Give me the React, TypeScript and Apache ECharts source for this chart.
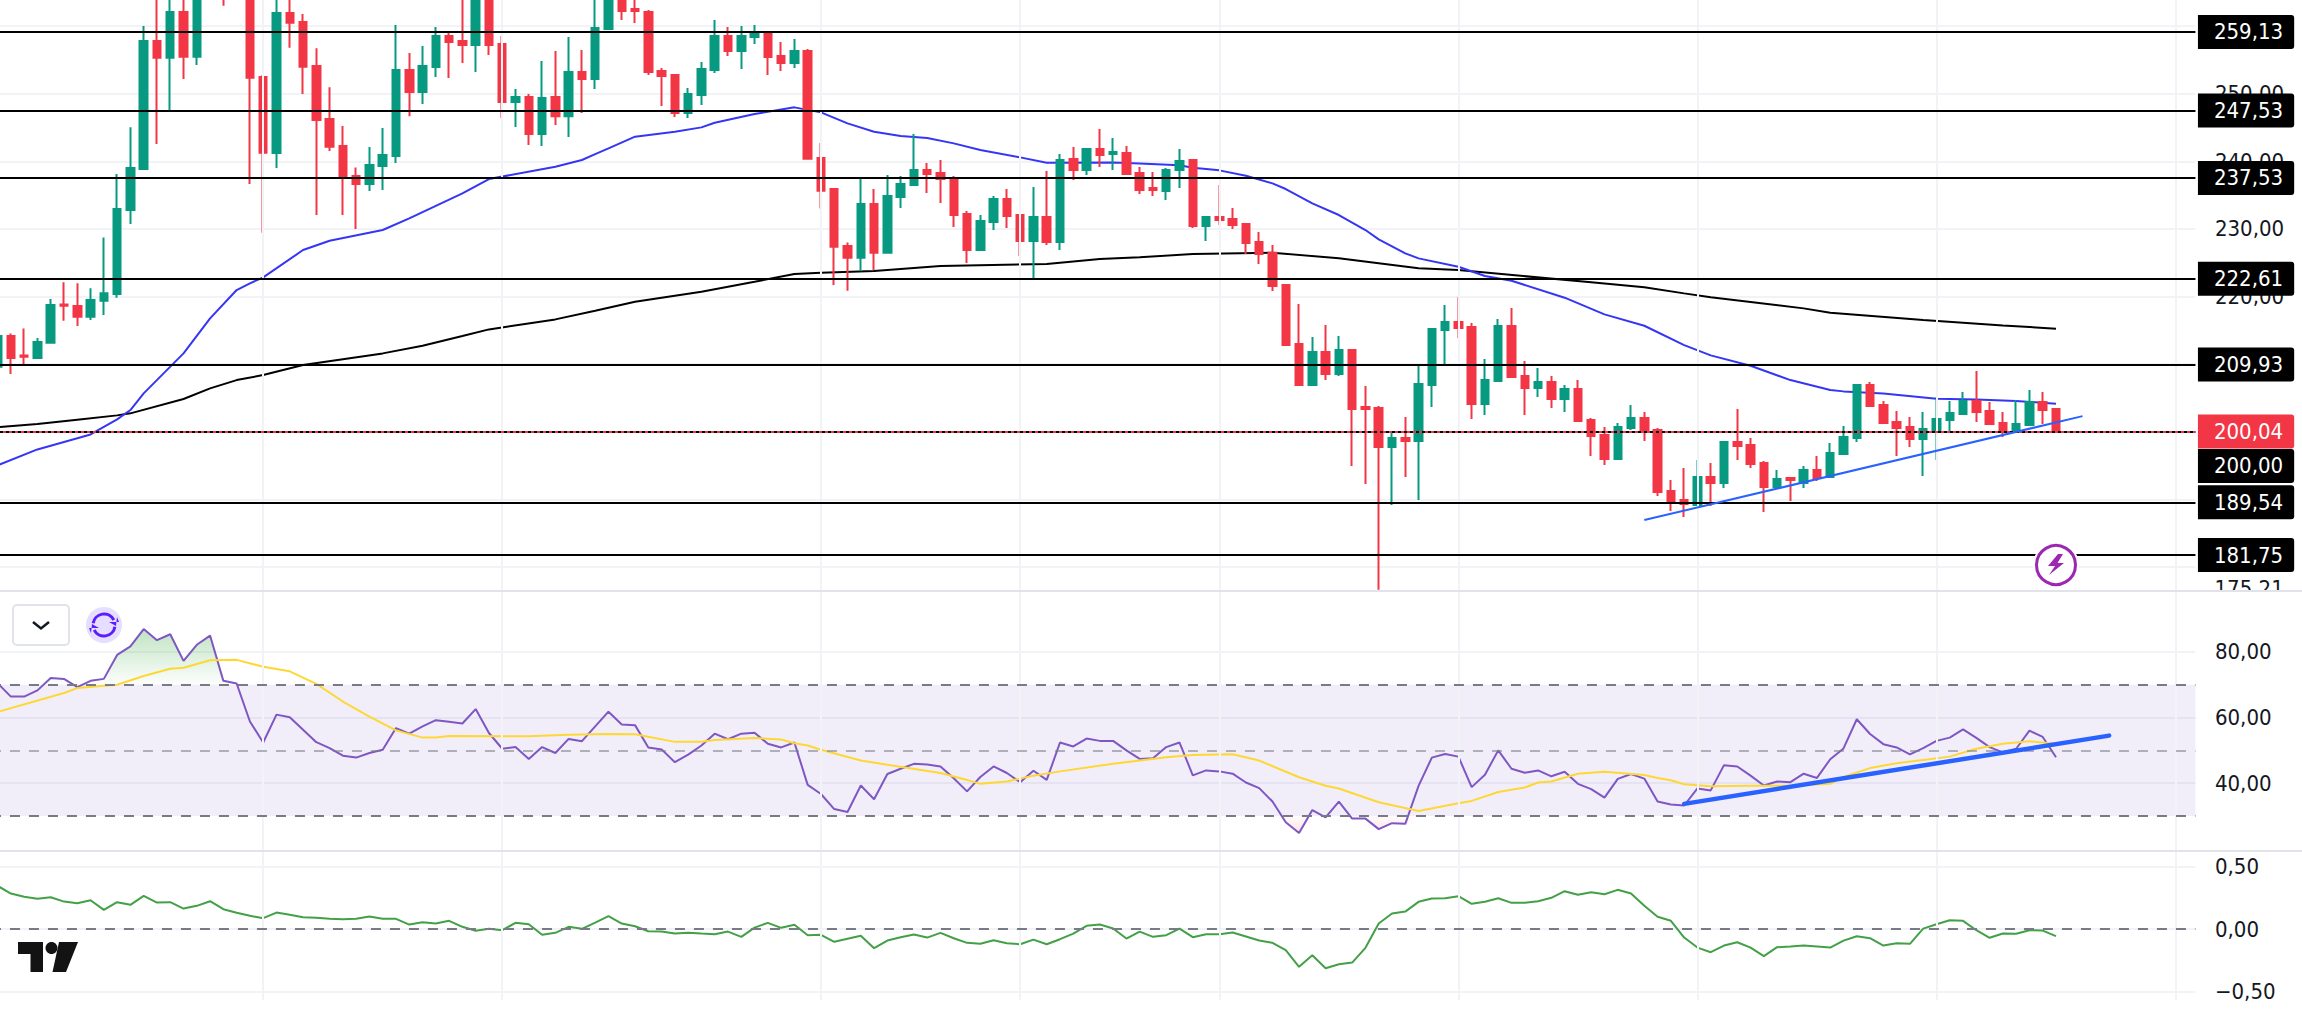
import React, { useEffect, useRef } from "react";
import * as echarts from "echarts";

const opens = [209.61,214.15,211.28,210.89,213.16,218.83,218.58,217.0,219.37,220.36,232.79,238.85,257.79,255.33,262.08,255.48,266,268,268,266.5,252.47,241.22,261.94,260.61,254.09,246.25,242.26,237.82,236.64,239.3,240.78,253.5,250.25,253.95,258.53,257.79,257.2,264.45,257.35,248.77,249.51,244.03,249.51,246.68,253.21,252.17,259.57,264.35,262.53,262.08,253.35,252.76,247.14,249.8,253.5,258.53,256.31,258.39,258.98,255.57,254.54,256.31,240.48,235.9,227.46,225.74,233.68,226.48,234.71,236.49,238.71,238.26,237.52,232.2,226.87,231.01,234.42,232.05,228.2,231.75,228.05,240.33,238.71,241.81,241.07,241.22,238.26,236.04,235.6,238.71,240.19,230.42,231.75,231.46,230.72,228.05,226.48,221.69,212.96,206.9,211.78,208.52,212.07,203.64,203.49,197.72,199.05,198.61,206.9,215.03,216.22,215.48,204.08,207.49,215.62,208.23,206.45,207.34,204.82,206.3,201.72,199.5,195.95,200.53,202.01,200.24,191.21,189.88,189.14,193.28,192.39,198.46,198.02,195.35,191.8,193.14,192.39,194.32,193.28,196.69,199.05,206.9,203.94,201.42,200.68,198.91,200.24,201.72,202.61,204.53,203.05,201.27,200.24,200.98,204.38,203.35];
const highs = [214.15,214.54,215.28,213.85,219.62,222.09,221.94,221.2,228.74,238.11,245.02,260.01,265.34,264.85,264.85,266.5,268,269,269,267.5,252.76,264.85,264.35,261.79,256.71,250.94,245.22,239.1,242.11,244.92,260.16,256.02,257.05,259.87,258.98,264.85,265.09,265.09,258.53,250.69,249.95,254.83,256.31,258.39,256.46,264.6,265.8,265.5,264.35,262.38,253.8,252.76,250.84,254.69,260.9,259.87,260.01,260.16,259.13,257.65,258.09,256.61,242.7,235.9,228.0,237.62,235.9,237.97,237.82,244.03,239.74,240.19,237.82,232.64,232.05,234.86,235.9,232.05,236.19,238.56,241.07,242.11,241.96,244.77,243.44,242.26,239.15,238.41,239.0,241.81,240.19,231.9,236.49,233.08,230.87,229.53,227.61,221.69,218.88,214.0,215.77,214.15,212.07,206.75,203.79,199.94,202.16,210.0,215.18,218.73,219.92,216.07,210.74,216.66,218.29,210.45,209.41,208.23,206.9,207.63,202.01,200.68,201.27,203.94,202.9,200.53,192.84,194.61,195.8,195.35,198.61,203.35,199.05,195.65,194.32,193.28,194.91,196.39,198.31,200.83,206.9,207.34,204.53,203.05,202.16,202.9,205.12,204.53,205.86,208.97,204.38,202.9,204.68,206.16,205.86,203.35];
const lows = [208.82,208.52,209.85,210.89,213.16,216.41,215.62,216.51,217.25,219.82,230.72,238.85,242.55,247.34,252.17,254.24,264.5,263.02,264.8,236.64,229.43,239.0,256.81,249.95,232.05,241.52,232.05,229.98,235.6,235.75,239.74,246.68,248.47,252.47,252.32,254.54,253.21,255.72,246.4,245.07,242.41,242.26,245.37,243.59,247.14,250.69,259.57,260.9,260.46,252.76,248.18,246.55,246.4,248.32,253.06,255.57,253.65,257.35,252.76,253.35,253.8,240.38,233.0,221.69,220.85,223.76,223.91,226.48,233.08,236.49,235.3,233.82,230.27,224.95,226.72,229.83,230.13,225.98,222.58,227.61,226.87,237.23,237.97,239.15,238.71,238.11,235.16,234.86,234.27,236.04,230.13,228.2,230.57,229.98,226.28,224.8,220.8,212.67,206.75,206.75,207.63,208.23,194.91,192.25,176.6,189.14,193.28,189.88,203.64,209.85,213.85,201.86,202.46,207.49,208.08,202.46,205.12,203.49,202.9,201.42,196.39,195.06,195.95,200.24,198.61,190.47,188.25,187.36,189.14,188.99,191.65,195.8,194.61,188.1,191.51,189.73,191.65,192.69,193.14,196.69,198.46,203.79,201.12,196.39,197.72,193.43,195.8,199.94,202.46,201.42,200.98,199.2,199.79,200.98,201.12,199.9];
const closes = [214.15,210.89,211.09,213.26,218.73,218.63,217.0,219.47,220.46,232.94,239.0,257.79,255.33,262.08,255.48,265.34,267,265,266.5,252.37,241.27,261.94,260.51,254.0,246.11,242.16,237.67,236.64,239.45,240.93,253.5,250.25,254.09,258.53,257.65,257.2,264.45,257.2,248.77,249.51,244.03,249.36,246.68,253.21,252.17,259.72,264.6,262.23,262.23,253.21,252.62,247.14,249.95,253.65,258.53,256.31,258.53,258.98,255.43,254.54,256.31,240.38,235.65,227.36,225.74,233.68,226.48,234.86,236.64,238.71,238.11,237.38,232.05,226.87,231.16,234.42,231.9,228.2,231.75,228.05,240.19,238.71,241.81,240.93,241.37,238.11,235.75,235.75,238.71,240.04,230.42,231.75,231.31,230.57,227.9,226.28,221.54,212.81,206.9,211.78,208.52,212.07,203.35,203.35,197.72,199.05,198.61,207.04,215.18,216.22,215.33,204.08,207.63,215.62,208.08,206.45,207.34,204.82,206.3,201.57,199.35,195.95,200.68,202.01,199.94,191.06,189.73,189.29,193.28,192.39,198.46,197.87,195.21,191.8,192.99,192.84,194.32,193.14,196.84,199.2,206.9,203.79,201.27,200.53,198.91,200.39,201.87,202.75,204.53,202.9,201.12,200.24,201.12,204.38,203.2,200.04];

const blueIndex = [0,3,7,9,10,11,14,16,18,19,20,23,25,29,31,35,37,42,44,45,46,48,51,53,54,57,60,62,64,66,68,70,72,74,77,79,84,86,89,90,92,94,96,97,99,101,103,104,106,107,110,112,114,118,121,124,127,129,132,135,138,139,142,146,149,152,155];
const blueValues = [195.01,197.37,199.59,201.82,203.2,205.66,211.58,216.76,220.95,221.94,222.83,226.87,228.25,229.83,231.56,235.25,237.38,239.2,240.19,241.07,241.91,243.64,244.38,245.02,245.71,247.0,247.98,247.24,245.61,244.38,243.74,243.44,242.65,241.67,240.58,239.79,239.84,239.69,239.4,239.05,238.66,237.87,236.73,235.9,233.77,232.05,229.83,228.45,226.38,225.64,224.4,223.02,222.33,219.82,217.35,215.67,212.81,211.29,209.76,207.63,206.16,205.96,205.66,204.87,204.77,204.53,204.13];
const blackIndex = [0,3,6,9,10,14,16,18,20,23,29,32,35,37,42,45,48,53,57,60,62,66,71,79,83,86,90,96,101,107,110,120,124,127,129,136,138,145,151,155];
const blackValues = [200.68,201.12,201.77,202.41,202.71,204.83,206.4,207.63,208.37,209.85,211.58,212.72,214.15,215.13,216.61,217.9,219.23,220.7,222.18,223.32,223.52,223.76,224.5,224.8,225.54,225.79,226.28,226.48,225.64,224.16,223.91,222.09,221.35,220.46,219.87,218.24,217.6,216.51,215.72,215.23];
const trendIndex = [124,157];
const trendValues = [186.92,202.3];

const rsi = [70.5,66.4,66.4,68.3,72.1,71.8,69.3,71.2,71.8,79.1,81.7,87,83.6,85.4,77.3,82.2,85,71.2,70.4,58.8,52.4,60.9,60.1,56.3,52.5,50.7,48.4,47.8,49.2,50.2,56.8,55.1,57.3,59.2,58.7,58.2,62.6,55.3,50.5,51,47.4,51,49.2,53.5,52.8,57.3,61.8,57.9,57.7,50.9,50.3,46.4,48.7,51.5,55.1,53.4,55.1,55.4,52,50.9,52.4,39.5,36.7,32.1,31.2,39.3,35.1,42.8,44.4,45.9,45.7,45.1,41.5,37.5,41.9,45.1,43.1,40.3,43.8,41,52.4,51.2,53.6,52.9,52.9,50,47.4,47.6,51,52.4,42.4,43.9,43.6,42.9,40.2,38.5,34.4,28.1,24.8,31.8,29.6,34.4,29.2,29.2,26,27.8,27.6,39.2,47.8,48.9,48.1,38.8,42.6,50,44.4,43.2,43.9,42.1,43.5,39.8,38.2,35.6,41.3,42.8,41.4,34.4,33.5,33.2,38.4,37.8,45.5,45.1,42.3,39.3,40.5,40.3,42.9,41.6,47.3,50.6,59.5,55,51.9,50.9,48.8,50.7,52.9,53.9,56.4,53.8,51,49.4,50.5,56,54.1,47.9];
const maIndex = [0,5,6,9,11,13,14,16,18,20,22,24,26,28,30,32,33,34,40,43,46,48,51,53,54,57,59,60,61,62,65,67,71,73,74,76,78,80,84,88,90,93,95,98,100,101,104,107,110,111,113,115,116,117,119,121,124,125,126,127,129,132,135,138,139,141,143,145,147,149,151,153,155];
const maValues = [61.7,67.5,69,70,72.7,74.9,75.2,77.5,77.6,75.5,74.1,70.3,64.9,60.3,56.1,53.9,53.9,54.4,54.3,54.8,55,54.9,52.6,52.6,53.2,53.8,53.3,52.2,51.5,50.2,46.9,45.6,43.1,41,39.8,40.5,42.3,43.6,45.9,47.9,48.6,48.8,46.9,41.8,39.2,38.4,34.2,31.5,33.9,34.6,37.3,38.7,40.2,40.5,42.9,43.5,42.5,41.6,40.9,39.7,39.1,39.2,39.2,39.8,41.9,44.6,46.1,47.1,48.1,50.5,52,52.8,52];
const rsiTrendIndex = [127,159];
const rsiTrendValues = [33.7,54.5];

const lower = [0.347,0.285,0.259,0.243,0.256,0.221,0.208,0.232,0.155,0.216,0.195,0.267,0.213,0.216,0.165,0.187,0.224,0.16,0.131,0.107,0.088,0.133,0.115,0.096,0.091,0.083,0.08,0.083,0.101,0.083,0.083,0.037,0.056,0.045,0.067,0.019,-0.013,0.003,-0.008,0.051,0.04,-0.045,-0.029,0.019,0.003,0.053,0.104,0.045,0.024,-0.016,-0.019,-0.035,-0.029,-0.035,-0.04,-0.019,-0.061,0.013,0.051,0.011,0.035,-0.048,-0.045,-0.101,-0.077,-0.053,-0.152,-0.091,-0.064,-0.043,-0.067,-0.029,-0.072,-0.109,-0.117,-0.088,-0.112,-0.12,-0.083,-0.12,-0.08,-0.035,0.027,0.037,0.005,-0.075,-0.019,-0.061,-0.048,0.005,-0.064,-0.04,-0.04,-0.027,-0.059,-0.091,-0.109,-0.168,-0.301,-0.208,-0.312,-0.28,-0.267,-0.149,0.045,0.125,0.141,0.219,0.245,0.248,0.264,0.203,0.219,0.248,0.211,0.211,0.224,0.251,0.304,0.275,0.296,0.28,0.315,0.285,0.187,0.099,0.067,-0.067,-0.147,-0.184,-0.131,-0.104,-0.147,-0.216,-0.144,-0.139,-0.131,-0.139,-0.147,-0.091,-0.056,-0.072,-0.131,-0.112,-0.117,0.005,0.04,0.072,0.067,-0.008,-0.069,-0.035,-0.037,-0.008,-0.011,-0.056];

const levels = [259.13,247.53,237.53,222.61,209.93,189.54,181.75];
const levelLabels = ["259,13","247,53","237,53","222,61","209,93","189,54","181,75"];
const lastPrice = 200.04;
const roundLevel = 200;
const roundLevelTagValue = 194.92;
const priceTicks = [180,190,200,210,220,230,240,250,260];
const priceLabelTicks = [220,230,240,250];
const rsiTicks = [40,60,80];
const lowerTicks = [-0.5,0,0.5];
const timeMarks = [20,38,62,77,92,110,128,146,164];
const categories = Array.from({ length: 166 }, (_, i) => String(i));

const FONT = "'DejaVu Sans Condensed', 'DejaVu Sans', sans-serif";
const UP = "#089981";
const DOWN = "#F23645";
const GRID = "#F1F3F6";

const fmt = (v: number) => v.toFixed(2).replace(".", ",").replace("-", "\u2212");
const pairs = (xs: number[], ys: number[]) => xs.map((x, i) => [x, ys[i]]);

const tag = (bg: string) => ({
  show: true,
  position: "end",
  distance: 2.5,
  formatter: "{b}",
  color: "#fff",
  backgroundColor: bg,
  borderRadius: [0, 3, 3, 0],
  padding: [6, 11, 6, 16],
  fontFamily: FONT,
  fontSize: 22,
  lineHeight: 22,
});

const vertical = (idx: number) => ({
  type: "line",
  xAxisIndex: idx,
  yAxisIndex: idx,
  data: [],
  z: 1,
  silent: true,
  markLine: {
    silent: true,
    symbol: "none",
    animation: false,
    label: { show: false },
    lineStyle: { color: GRID, width: 2, type: "solid" },
    data: timeMarks.map((m) => ({ xAxis: m })),
  },
});

const yAxisBase = (idx: number, min: number, max: number, ticks: number[], labels: number[]) => ({
  gridIndex: idx,
  type: "value",
  position: "right",
  min,
  max,
  scale: true,
  axisLine: { show: false },
  axisTick: { show: false, customValues: ticks },
  splitLine: { show: true, lineStyle: { color: GRID, width: 2 } },
  axisLabel: {
    customValues: labels,
    formatter: fmt,
    color: "#131722",
    fontFamily: FONT,
    fontSize: 22,
    margin: 19.5,
    showMinLabel: true,
    showMaxLabel: true,
  },
});

const xAxisBase = (idx: number) => ({
  gridIndex: idx,
  type: "category",
  data: categories,
  boundaryGap: true,
  axisLine: { show: false },
  axisTick: { show: false },
  axisLabel: { show: false },
  splitLine: { show: false },
});

const dashLine = (v: number, color: string) => ({
  yAxis: v,
  lineStyle: { color, width: 2, type: [10, 9] },
});

const option: any = {
  animation: false,
  backgroundColor: "#ffffff",
  grid: [
    { left: -9.04, width: 2204.48, top: 0, height: 590.5, outerBoundsMode: "none", containLabel: false },
    { left: -9.04, width: 2204.48, top: 592, height: 258, outerBoundsMode: "none", containLabel: false },
    { left: -9.04, width: 2204.48, top: 851, height: 149, outerBoundsMode: "none", containLabel: false },
  ],
  xAxis: [xAxisBase(0), xAxisBase(1), xAxisBase(2)],
  yAxis: [
    yAxisBase(0, 176.5, 263.864, priceTicks, priceLabelTicks),
    yAxisBase(1, 19.63, 98.29, rsiTicks, rsiTicks),
    yAxisBase(2, -0.5664, 0.6256, lowerTicks, lowerTicks),
  ],
  series: [
    vertical(0),
    vertical(1),
    vertical(2),
    {
      type: "line",
      name: "levels",
      xAxisIndex: 0,
      yAxisIndex: 0,
      data: [],
      z: 2,
      markLine: {
        silent: true,
        symbol: "none",
        animation: false,
        lineStyle: { color: "#000000", width: 2, type: "solid" },
        data: [
          ...levels.map((v, i) => ({ yAxis: v, name: levelLabels[i], label: tag("#000000") })),
          { yAxis: roundLevel, name: "", label: { show: false } },
          {
            yAxis: roundLevelTagValue,
            name: "200,00",
            label: tag("#000000"),
            lineStyle: { color: "rgba(0,0,0,0)", width: 1 },
          },
        ],
      },
    },
    {
      type: "line",
      name: "ma-black",
      xAxisIndex: 0,
      yAxisIndex: 0,
      data: pairs(blackIndex, blackValues),
      showSymbol: false,
      lineStyle: { color: "#000000", width: 2 },
      z: 3,
    },
    {
      type: "line",
      name: "ma-blue",
      xAxisIndex: 0,
      yAxisIndex: 0,
      data: pairs(blueIndex, blueValues),
      showSymbol: false,
      lineStyle: { color: "#3535F5", width: 2 },
      z: 3,
    },
    {
      type: "candlestick",
      name: "price",
      xAxisIndex: 0,
      yAxisIndex: 0,
      barWidth: 8,
      z: 4,
      itemStyle: { color: UP, color0: DOWN, borderColor: UP, borderColor0: DOWN, borderWidth: 2 },
      data: opens.map((o, i) => [o, closes[i], lows[i], highs[i]]),
    },
    {
      type: "line",
      name: "trend",
      xAxisIndex: 0,
      yAxisIndex: 0,
      data: pairs(trendIndex, trendValues),
      showSymbol: false,
      lineStyle: { color: "#2962FF", width: 2 },
      z: 5,
    },
    {
      type: "line",
      name: "last",
      xAxisIndex: 0,
      yAxisIndex: 0,
      data: [],
      z: 6,
      markLine: {
        silent: true,
        symbol: "none",
        animation: false,
        lineStyle: { color: DOWN, width: 2, type: [3, 3] },
        data: [{ yAxis: lastPrice, name: "200,04", label: tag(DOWN) }],
      },
    },
    {
      type: "line",
      name: "rsi-band",
      xAxisIndex: 1,
      yAxisIndex: 1,
      data: [],
      z: 1,
      markArea: {
        silent: true,
        itemStyle: { color: "rgba(126,87,194,0.1)" },
        data: [[{ yAxis: 30 }, { yAxis: 70 }]],
      },
      markLine: {
        silent: true,
        symbol: "none",
        animation: false,
        label: { show: false },
        data: [
          dashLine(70, "#787B86"),
          dashLine(50, "rgba(120,123,134,0.55)"),
          dashLine(30, "#787B86"),
        ],
      },
    },
    {
      type: "line",
      name: "rsi-over",
      xAxisIndex: 1,
      yAxisIndex: 1,
      data: rsi.map((v) => Math.max(v, 70)),
      showSymbol: false,
      lineStyle: { opacity: 0 },
      z: 2,
      areaStyle: {
        origin: 70,
        color: new echarts.graphic.LinearGradient(0, 0, 0, 1, [
          { offset: 0, color: "rgba(76,175,80,0.5)" },
          { offset: 1, color: "rgba(76,175,80,0.02)" },
        ]),
      },
    },
    {
      type: "line",
      name: "rsi-under",
      xAxisIndex: 1,
      yAxisIndex: 1,
      data: rsi.map((v) => Math.min(v, 30)),
      showSymbol: false,
      lineStyle: { opacity: 0 },
      z: 2,
      areaStyle: {
        origin: 30,
        color: new echarts.graphic.LinearGradient(0, 0, 0, 1, [
          { offset: 0, color: "rgba(255,82,82,0.02)" },
          { offset: 1, color: "rgba(255,82,82,0.25)" },
        ]),
      },
    },
    {
      type: "line",
      name: "rsi",
      xAxisIndex: 1,
      yAxisIndex: 1,
      data: rsi,
      showSymbol: false,
      lineStyle: { color: "#7E57C2", width: 2 },
      z: 3,
    },
    {
      type: "line",
      name: "rsi-ma",
      xAxisIndex: 1,
      yAxisIndex: 1,
      data: pairs(maIndex, maValues),
      showSymbol: false,
      lineStyle: { color: "#FDD835", width: 2 },
      z: 4,
    },
    {
      type: "line",
      name: "rsi-trend",
      xAxisIndex: 1,
      yAxisIndex: 1,
      data: pairs(rsiTrendIndex, rsiTrendValues),
      showSymbol: false,
      lineStyle: { color: "#2962FF", width: 4.5, cap: "round" },
      z: 5,
    },
    {
      type: "line",
      name: "lower-zero",
      xAxisIndex: 2,
      yAxisIndex: 2,
      data: [],
      z: 2,
      markLine: {
        silent: true,
        symbol: "none",
        animation: false,
        label: { show: false },
        data: [dashLine(0, "#787B86")],
      },
    },
    {
      type: "line",
      name: "lower",
      xAxisIndex: 2,
      yAxisIndex: 2,
      data: lower,
      showSymbol: false,
      lineStyle: { color: "#43A047", width: 2 },
      z: 3,
    },
  ],
  graphic: {
    elements: [
      {
        type: "text",
        x: 2214.5,
        y: 588,
        z: 90,
        style: { text: "175,21", fill: "#131722", font: `22px ${FONT}`, textAlign: "left", textVerticalAlign: "middle" },
      },
      { type: "rect", z: 91, shape: { x: 2197, y: 590, width: 105, height: 20 }, style: { fill: "#ffffff" } },
      { type: "rect", z: 92, shape: { x: 0, y: 590, width: 2302, height: 2 }, style: { fill: "#E0E3EB" } },
      { type: "rect", z: 92, shape: { x: 0, y: 850, width: 2302, height: 2 }, style: { fill: "#E0E3EB" } },
      {
        type: "rect",
        z: 93,
        shape: { x: 13, y: 605, width: 56, height: 40, r: 4 },
        style: { fill: "#ffffff", stroke: "#E0E3EB", lineWidth: 2 },
      },
      {
        type: "polyline",
        z: 94,
        shape: { points: [[33, 622], [41, 628.5], [49, 622]] },
        style: { fill: "none", stroke: "#131722", lineWidth: 2.5 },
      },
      { type: "circle", z: 93, shape: { cx: 104, cy: 625, r: 18 }, style: { fill: "#E5DEFF" } },
      {
        type: "arc",
        z: 94,
        shape: { cx: 104, cy: 625, r: 11, startAngle: Math.PI * 1.05, endAngle: Math.PI * 1.85 },
        style: { fill: "none", stroke: "#5B1CFF", lineWidth: 3 },
      },
      {
        type: "arc",
        z: 94,
        shape: { cx: 104, cy: 625, r: 11, startAngle: Math.PI * 0.05, endAngle: Math.PI * 0.85 },
        style: { fill: "none", stroke: "#5B1CFF", lineWidth: 3 },
      },
      { type: "polygon", z: 94, shape: { points: [[109, 622], [119, 622], [117, 617], [116, 626]] }, style: { fill: "#5B1CFF" } },
      { type: "polygon", z: 94, shape: { points: [[99, 628], [89, 628], [91, 633], [92, 624]] }, style: { fill: "#5B1CFF" } },
      { type: "circle", z: 93, shape: { cx: 2056, cy: 565, r: 23 }, style: { fill: "#ffffff" } },
      { type: "circle", z: 94, shape: { cx: 2056, cy: 565, r: 19.5 }, style: { fill: "#ffffff", stroke: "#9C27B0", lineWidth: 3 } },
      {
        type: "polygon",
        z: 95,
        shape: { points: [[2058, 554], [2048, 566], [2055, 566], [2049, 575], [2064, 563], [2057.5, 563], [2063, 554]] },
        style: { fill: "#9C27B0" },
      },
      { type: "polygon", z: 93, shape: { points: [[18, 942], [43, 942], [43, 972], [30.5, 972], [30.5, 954], [18, 954]] }, style: { fill: "#131313" } },
      { type: "ellipse", z: 93, shape: { cx: 51.5, cy: 948, rx: 6, ry: 6 }, style: { fill: "#131313" } },
      { type: "polygon", z: 93, shape: { points: [[59, 942], [78, 942], [66, 972], [52.5, 972]] }, style: { fill: "#131313" } },
    ],
  },
};

export default function App() {
  const ref = useRef<HTMLDivElement>(null);
  useEffect(() => {
    document.body.style.margin = "0";
    document.body.style.overflow = "hidden";
    const chart = echarts.init(ref.current!, undefined, { renderer: "svg" });
    chart.setOption(option);
    return () => chart.dispose();
  }, []);
  return <div ref={ref} style={{ width: 2302, height: 1015 }} />;
}
